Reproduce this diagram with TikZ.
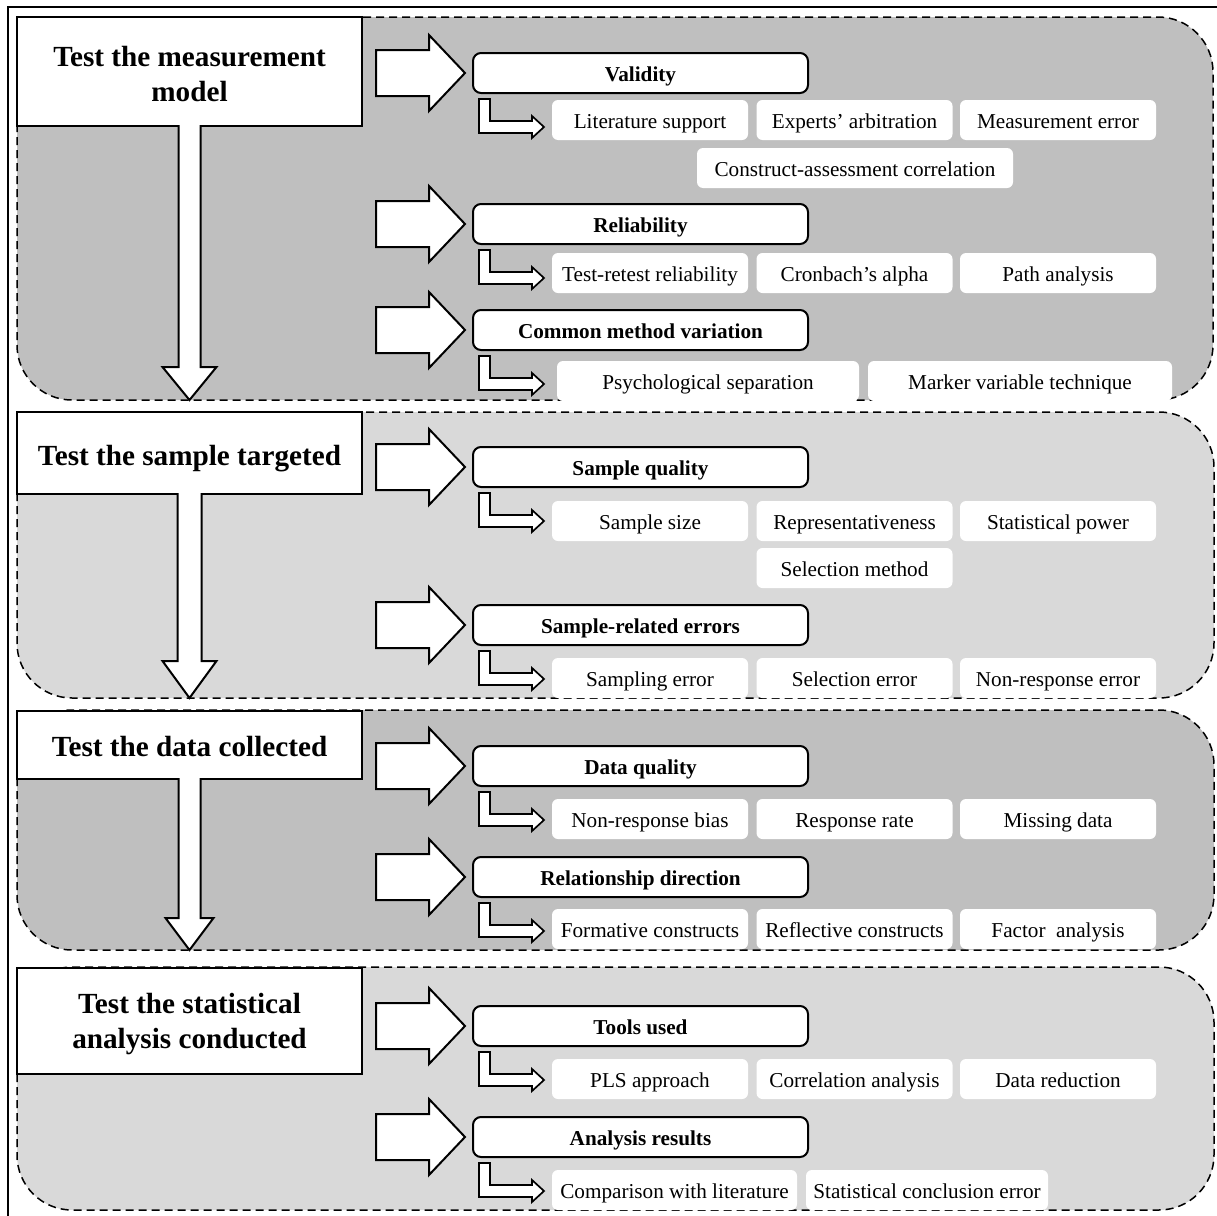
\documentclass[tikz,border=0pt]{standalone}
\usepackage{fontspec}
\setmainfont{Liberation Serif}
\usetikzlibrary{calc}
\definecolor{darkband}{HTML}{BFBFBF}
\definecolor{lightband}{HTML}{D9D9D9}
\newcommand\rarr[1]{\draw[blockarrow] ($(#1.west)+(-7,0)$) -- ++(-36,-38) -- ++(0,15) -- ++(-53,0) -- ++(0,46) -- ++(53,0) -- ++(0,15) -- cycle;}
\newcommand\larr[1]{\draw[larrow] ($(#1.south west)+(7,5)$) -- ++(11,0) -- ++(0,22) -- ++(42,0) -- ++(0,-5) -- ++(12,11) -- ++(-12,11) -- ++(0,-5) -- ++(-53,0) -- cycle;}
\begin{document}
\begin{tikzpicture}[x=0.5pt,y=-0.5pt,
 band/.style={draw=black,line width=0.75pt,dash pattern=on 4pt off 2.5pt,rounded corners=27.5pt},
 header/.style={draw=black,fill=white,line width=1pt,minimum width=172.5pt,inner sep=0pt,align=center,font=\fontsize{14.6}{17.5}\selectfont\bfseries},
 midbox/.style={draw=black,fill=white,line width=1pt,rounded corners=4pt,minimum width=167.5pt,minimum height=20pt,inner sep=0pt,text height=9pt,text depth=1pt,font=\fontsize{10.6}{12.7}\selectfont\bfseries},
 leaf/.style={fill=white,rounded corners=3pt,minimum width=98pt,minimum height=20pt,inner sep=0pt,text height=9pt,text depth=1pt,font=\fontsize{10.6}{12.7}\selectfont},
 blockarrow/.style={draw=black,fill=white,line width=1pt,line join=miter},
 larrow/.style={draw=black,fill=white,line width=0.85pt,line join=miter},
 frame/.style={draw=black,line width=1pt}]

\useasboundingbox (0,0) rectangle (1217,1216);
\draw[frame] (8,1216) -- (8,7) -- (1217,7);

% bands
\path[band,fill=darkband] (17,17) rectangle (1213,400);
\path[band,fill=lightband] (17,412) rectangle (1214,698);
\path[band,fill=darkband] (17,710) rectangle (1214,950);
\path[band,fill=lightband] (17,967) rectangle (1214,1210);

% headers
\node[header,minimum height=54.5pt] (H1) at (189.5,71.5) {\rule{0pt}{13pt}Test the measurement\\model};
\node[header,minimum height=41pt,text height=13pt,text depth=1pt] (H2) at (189.5,453) {Test the sample targeted};
\node[header,minimum height=34pt,text height=12pt,text depth=1pt] (H3) at (189.5,745) {Test the data collected};
\node[header,minimum height=53pt] (H4) at (189.5,1021) {\rule{0pt}{13pt}Test the statistical\\analysis conducted};

% down arrows
\coordinate (T1) at (189.5,400);
\coordinate (T2) at (189.5,698);
\coordinate (T3) at (189.5,950);
\path[blockarrow] ($(H1.south)+(-11,-2)$) -- ($(T1)+(-11,-33)$) -- ($(T1)+(-27,-33)$) -- (T1) -- ($(T1)+(27,-33)$) -- ($(T1)+(11,-33)$) -- ($(H1.south)+(11,-2)$);
\path[blockarrow] ($(H2.south)+(-12,-2)$) -- ($(T2)+(-12,-37)$) -- ($(T2)+(-27,-37)$) -- (T2) -- ($(T2)+(27,-37)$) -- ($(T2)+(12,-37)$) -- ($(H2.south)+(12,-2)$);
\path[blockarrow] ($(H3.south)+(-11,-2)$) -- ($(T3)+(-11,-32)$) -- ($(T3)+(-24,-32)$) -- (T3) -- ($(T3)+(24,-32)$) -- ($(T3)+(11,-32)$) -- ($(H3.south)+(11,-2)$);

% section 1
\node[midbox] (valid) at (640.5,73) {Validity};
\node[midbox] (rel) at (640.5,224) {Reliability};
\node[midbox] (cmv) at (640.5,330) {Common method variation};
\rarr{valid}\larr{valid}
\rarr{rel}\larr{rel}
\rarr{cmv}\larr{cmv}
\node[leaf] (v1) at (650,120) {Literature support};
\node[leaf] (v2) at (854.5,120) {Experts’ arbitration};
\node[leaf] (v3) at (1058,120) {Measurement error};
\node[leaf,minimum width=158pt] (v4) at (855,168) {Construct-assessment correlation};
\node[leaf] (r1) at (650,273) {Test-retest reliability};
\node[leaf] (r2) at (854.5,273) {Cronbach’s alpha};
\node[leaf] (r3) at (1058,273) {Path analysis};
\node[leaf,minimum width=151pt] (c1) at (708,381) {Psychological separation};
\node[leaf,minimum width=152pt] (c2) at (1020,381) {Marker variable technique};

% section 2
\node[midbox] (sq) at (640.5,467) {Sample quality};
\node[midbox] (sre) at (640.5,625) {Sample-related errors};
\rarr{sq}\larr{sq}
\rarr{sre}\larr{sre}
\node[leaf] (s1) at (650,521) {Sample size};
\node[leaf] (s2) at (854.5,521) {Representativeness};
\node[leaf] (s3) at (1058,521) {Statistical power};
\node[leaf] (s4) at (854.5,568) {Selection method};
\node[leaf] (e1) at (650,678) {Sampling error};
\node[leaf] (e2) at (854.5,678) {Selection error};
\node[leaf] (e3) at (1058,678) {Non-response error};

% section 3
\node[midbox] (dq) at (640.5,766) {Data quality};
\node[midbox] (rd) at (640.5,877) {Relationship direction};
\rarr{dq}\larr{dq}
\rarr{rd}\larr{rd}
\node[leaf] (d1) at (650,819) {Non-response bias};
\node[leaf] (d2) at (854.5,819) {Response rate};
\node[leaf] (d3) at (1058,819) {Missing data};
\node[leaf] (f1) at (650,929) {Formative constructs};
\node[leaf] (f2) at (854.5,929) {Reflective constructs};
\node[leaf] (f3) at (1058,929) {Factor\ \ analysis};

% section 4
\node[midbox] (tu) at (640.5,1026) {Tools used};
\node[midbox] (ar) at (640.5,1137) {Analysis results};
\rarr{tu}\larr{tu}
\rarr{ar}\larr{ar}
\node[leaf] (t1) at (650,1079) {PLS approach};
\node[leaf] (t2) at (854.5,1079) {Correlation analysis};
\node[leaf] (t3) at (1058,1079) {Data reduction};
\node[leaf,minimum width=122.5pt] (a1) at (674.5,1190) {Comparison with literature};
\node[leaf,minimum width=121pt] (a2) at (927,1190) {Statistical conclusion error};
\end{tikzpicture}
\end{document}
